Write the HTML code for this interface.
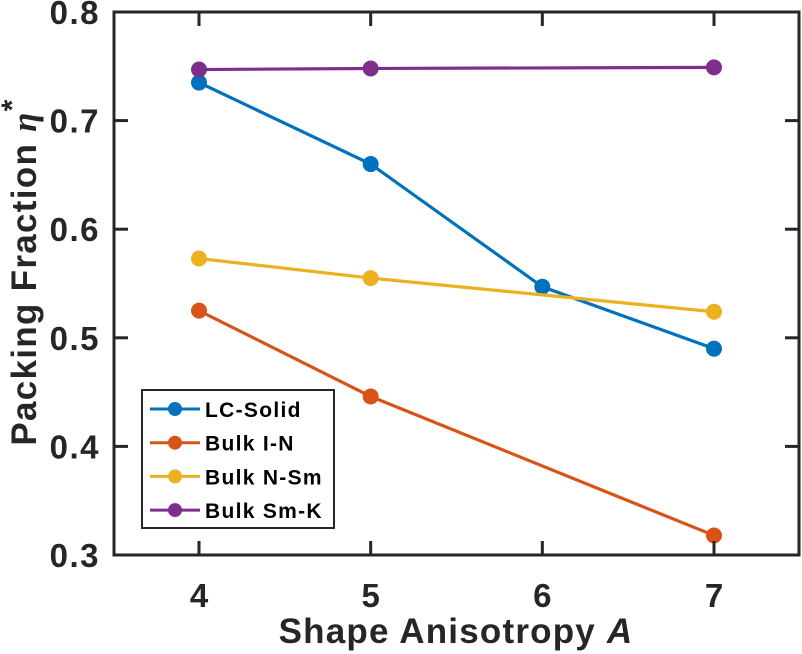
<!DOCTYPE html>
<html><head><meta charset="utf-8"><style>
body{margin:0;background:#fff;}
svg{display:block;font-family:"Liberation Sans",sans-serif;font-weight:bold;}
</style></head><body>
<svg id="chart" width="802" height="654" viewBox="0 0 802 654" style="position:absolute;left:0;top:0">
<g id="plot"></g>
<text x="456" y="643" text-anchor="middle" font-size="35" letter-spacing="1.2" fill="#262626">Shape Anisotropy <tspan font-style="italic">A</tspan></text>
<text transform="translate(36,272) rotate(-90)" text-anchor="middle" font-size="35" letter-spacing="1.3" fill="#262626">Packing Fraction  <tspan font-family="Liberation Serif, serif" font-style="italic">η</tspan><tspan dy="-14" font-size="30">*</tspan></text>
</svg>
<script>
const xTicks=[4,5,6,7];
const yTicks=[0.3,0.4,0.5,0.6,0.7,0.8];
const yTickLabels=["0.3","0.4","0.5","0.6","0.7","0.8"];
const seriesNames=["LC-Solid","Bulk I-N","Bulk N-Sm","Bulk Sm-K"];
const seriesColors=["#0072BD","#D95319","#EDB120","#7E2F8E"];
const lcX=[4,5,6,7];
const lcY=[0.735,0.660,0.547,0.490];
const inX=[4,5,7];
const inY=[0.525,0.446,0.318];
const nsmX=[4,5,7];
const nsmY=[0.573,0.555,0.524];
const smkX=[4,5,7];
const smkY=[0.747,0.748,0.749];
const seriesX=[lcX,inX,nsmX,smkX];
const seriesY=[lcY,inY,nsmY,smkY];

const L=114,R=799,T=12,B=555;
const xs=v=>199+(v-4)*(714-199)/3;
const ys=v=>B-(v-0.3)*(B-T)/0.5;
const NS="http://www.w3.org/2000/svg";
const g=document.getElementById('plot');
function mk(tag,attrs,parent){const e=document.createElementNS(NS,tag);for(const k in attrs)e.setAttribute(k,attrs[k]);(parent||g).appendChild(e);return e;}

seriesX.forEach((xa,i)=>{
  const pts=xa.map((x,j)=>xs(x)+','+ys(seriesY[i][j])).join(' ');
  const pl=mk('polyline',{points:pts,fill:'none',stroke:seriesColors[i],'stroke-width':3.2});
  
  
  xa.forEach((x,j)=>{
    const c=mk('circle',{cx:xs(x),cy:ys(seriesY[i][j]),r:8,fill:seriesColors[i]});
    
    
  });
});

const box=mk('rect',{x:L,y:T,width:R-L,height:B-T,fill:'none',stroke:'#262626','stroke-width':3});



xTicks.forEach(v=>{
  const x=xs(v);
  mk('line',{x1:x,y1:B,x2:x,y2:B-14,stroke:'#262626','stroke-width':3});
  mk('line',{x1:x,y1:T,x2:x,y2:T+14,stroke:'#262626','stroke-width':3});
  const t=mk('text',{x:x,y:B+52,'text-anchor':'middle','font-size':33,fill:'#262626'});
  t.textContent=v;
  
  
});
yTicks.forEach((v,i)=>{
  const y=ys(v);
  mk('line',{x1:L,y1:y,x2:L+14,y2:y,stroke:'#262626','stroke-width':3});
  mk('line',{x1:R,y1:y,x2:R-14,y2:y,stroke:'#262626','stroke-width':3});
  const t=mk('text',{x:100,y:y+12,'text-anchor':'end','font-size':33,'letter-spacing':1.5,fill:'#262626'});
  t.textContent=yTickLabels[i];
  
  
});

const lg=mk('g',{});


mk('rect',{x:142,y:390,width:192,height:138,fill:'#fff',stroke:'#262626','stroke-width':2},lg);
seriesNames.forEach((n,i)=>{
  const y=409+i*33.7;
  const e=mk('g',{},lg);
  
  
  mk('line',{x1:150,y1:y,x2:200,y2:y,stroke:seriesColors[i],'stroke-width':3},e);
  mk('circle',{cx:175,cy:y,r:7,fill:seriesColors[i]},e);
  const t=mk('text',{x:205,y:y+8,'font-size':21,'letter-spacing':1.3,fill:'#000'},e);
  t.textContent=n;
});
</script>
</body></html>
